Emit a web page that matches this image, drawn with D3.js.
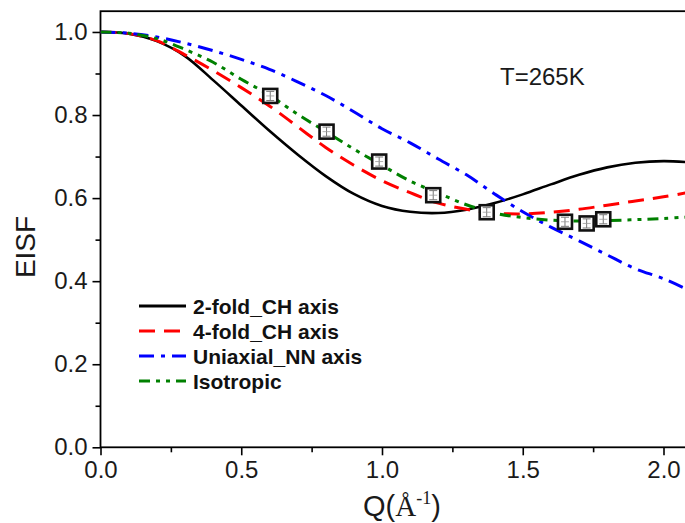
<!DOCTYPE html>
<html>
<head>
<meta charset="utf-8">
<script src="https://cdn.jsdelivr.net/npm/d3@7"></script>
<style>
  html, body { margin: 0; padding: 0; background: #fff; }
  svg { display: block; }
  text { font-family: Arial, "Liberation Sans", sans-serif; }
</style>
</head>
<body>
<svg id="chart" width="685" height="523"></svg>
<script>
// Q values (Å^-1) at which the model curves are tabulated
const qGrid = [0, 0.1, 0.2, 0.3, 0.4, 0.5, 0.6, 0.7, 0.8, 0.9, 1.0,
               1.1, 1.2, 1.3, 1.4, 1.5, 1.6, 1.7, 1.8, 1.9, 2.0, 2.1];

// EISF model curves
const twoFoldCH = [1.000, 0.996, 0.978, 0.942, 0.884, 0.823, 0.762, 0.705, 0.653, 0.610, 0.581,
                   0.567, 0.564, 0.572, 0.588, 0.609, 0.633, 0.656, 0.674, 0.685, 0.689, 0.686];
const fourFoldCH = [1.000, 0.996, 0.979, 0.945, 0.907, 0.866, 0.822, 0.772, 0.722, 0.679, 0.642,
                    0.613, 0.588, 0.573, 0.564, 0.562, 0.566, 0.573, 0.583, 0.593, 0.603, 0.615];
const uniaxialNN = [1.000, 0.997, 0.988, 0.973, 0.955, 0.934, 0.910, 0.880, 0.847, 0.808, 0.767,
                    0.733, 0.694, 0.656, 0.610, 0.567, 0.530, 0.497, 0.463, 0.430, 0.406, 0.375];
const isotropic = [1.000, 0.997, 0.984, 0.958, 0.927, 0.886, 0.848, 0.802, 0.760, 0.718, 0.679,
                   0.641, 0.612, 0.584, 0.564, 0.553, 0.547, 0.545, 0.546, 0.548, 0.551, 0.555];

// Measured EISF points with their uncertainties
const expQ = [0.603, 0.803, 0.990, 1.182, 1.372, 1.650, 1.727, 1.786];
const expEISF = [0.846, 0.760, 0.688, 0.607, 0.566, 0.543, 0.539, 0.549];
const expErr = [0.011, 0.011, 0.011, 0.011, 0.011, 0.011, 0.011, 0.011];

const seriesNames = ["2-fold_CH axis", "4-fold_CH axis", "Uniaxial_NN axis", "Isotropic"];
const seriesValues = [twoFoldCH, fourFoldCH, uniaxialNN, isotropic];
const seriesColors = ["#000000", "#ff0000", "#0000ff", "#008000"];
const seriesDash = [null, "16,9", "15,7,4,7", "11,6,4,6,4,6"];

const xTicks = [0, 0.5, 1.0, 1.5, 2.0];
const xMinor = [0.25, 0.75, 1.25, 1.75];
const yTicks = [0, 0.2, 0.4, 0.6, 0.8, 1.0];
const yMinor = [0.1, 0.3, 0.5, 0.7, 0.9];

const svg = d3.select("#chart");
const plotLeft = 100.5, plotTop = 11.2, plotBottom = 447.3;
const x = d3.scaleLinear().domain([0, 2.1]).range([plotLeft, plotLeft + 2.1 * 281.5]);
const y = d3.scaleLinear().domain([0, 1.05]).range([plotBottom, plotTop]);

svg.append("defs").append("clipPath").attr("id", "plotArea")
  .append("rect").attr("x", x(0)).attr("y", y(1.05))
  .attr("width", x(2.1) - x(0)).attr("height", y(0) - y(1.05));

// Axes: major ticks labelled, minor ticks shorter
const fmt = d3.format(".1f");
svg.append("g").attr("transform", `translate(0,${plotBottom})`)
  .call(d3.axisBottom(x).tickValues(xTicks).tickFormat(fmt).tickSize(8).tickPadding(6));
svg.append("g").attr("transform", `translate(0,${plotBottom})`)
  .call(d3.axisBottom(x).tickValues(xMinor).tickFormat("").tickSize(5));
svg.append("g").attr("transform", `translate(${plotLeft},0)`)
  .call(d3.axisLeft(y).tickValues(yTicks).tickFormat(fmt).tickSize(8).tickPadding(5));
svg.append("g").attr("transform", `translate(${plotLeft},0)`)
  .call(d3.axisLeft(y).tickValues(yMinor).tickFormat("").tickSize(5));
svg.selectAll(".domain").remove();
svg.selectAll(".tick line").attr("stroke", "#000").attr("stroke-width", 1.6);
svg.selectAll(".tick text").attr("font-size", 24).attr("fill", "#1a1a1a")
  .attr("font-family", "Arial, 'Liberation Sans', sans-serif");

// Plot frame
svg.append("rect")
  .attr("x", x(0)).attr("y", y(1.05))
  .attr("width", x(2.1) - x(0)).attr("height", y(0) - y(1.05))
  .attr("fill", "none").attr("stroke", "#000").attr("stroke-width", 1.8);

// Model curves
const line = d3.line()
  .x((d, i) => x(qGrid[i]))
  .y(d => y(d))
  .curve(d3.curveCatmullRom.alpha(0.5));

const plot = svg.append("g").attr("clip-path", "url(#plotArea)");
seriesValues.forEach((vals, k) => {
  plot.append("path")
    .datum(vals)
    .attr("d", line)
    .attr("fill", "none")
    .attr("stroke", seriesColors[k])
    .attr("stroke-width", k === 0 ? 2.6 : 3)
    .attr("stroke-dasharray", seriesDash[k]);
});

// Measured points: open squares with small error bars inside
const pts = plot.selectAll("g.pt").data(expQ).join("g").attr("class", "pt")
  .attr("transform", (d, i) => `translate(${x(d)},${y(expEISF[i])})`);
pts.append("rect").attr("x", -7).attr("y", -7).attr("width", 14).attr("height", 14)
  .attr("fill", "#fff").attr("stroke", "#111").attr("stroke-width", 2.6);
pts.each(function (d, i) {
  const g = d3.select(this);
  const h = y(expEISF[i] - expErr[i]) - y(expEISF[i]);
  g.append("line").attr("x1", 0).attr("x2", 0).attr("y1", -h).attr("y2", h)
    .attr("stroke", "#777").attr("stroke-width", 1);
  [-h, h].forEach(v => g.append("line").attr("x1", -4).attr("x2", 4)
    .attr("y1", v).attr("y2", v).attr("stroke", "#777").attr("stroke-width", 1));
  g.append("line").attr("x1", -4).attr("x2", 4).attr("y1", 0).attr("y2", 0)
    .attr("stroke", "#999").attr("stroke-width", 0.8);
});

// Legend
const legend = svg.append("g");
seriesNames.forEach((name, k) => {
  const yy = 306 + k * 25;
  legend.append("line").attr("x1", 139).attr("x2", 186).attr("y1", yy).attr("y2", yy)
    .attr("stroke", seriesColors[k]).attr("stroke-width", k === 0 ? 2.8 : 3.2)
    .attr("stroke-dasharray", seriesDash[k]);
  legend.append("text").attr("x", 193).attr("y", yy + 7.5)
    .attr("font-size", 21).attr("font-weight", "bold").attr("fill", "#111").text(name);
});

// Temperature annotation
svg.append("text").attr("x", 500).attr("y", 85).attr("font-size", 24)
  .attr("fill", "#1a1a1a").text("T=265K");

// Axis titles
svg.append("text").attr("transform", "translate(35,247) rotate(-90)")
  .attr("text-anchor", "middle").attr("font-size", 28).attr("fill", "#1a1a1a").text("EISF");

const xt = svg.append("text").attr("x", 363).attr("y", 516)
  .attr("font-size", 29).attr("fill", "#1a1a1a");
xt.append("tspan").text("Q(");
xt.append("tspan").attr("font-family", "'Liberation Serif', 'Times New Roman', serif").text("Å");
xt.append("tspan").attr("font-family", "'Liberation Serif', 'Times New Roman', serif")
  .attr("font-size", 18).attr("dy", -12).text("-1");
xt.append("tspan").attr("dy", 12).text(")");
</script>
</body>
</html>
